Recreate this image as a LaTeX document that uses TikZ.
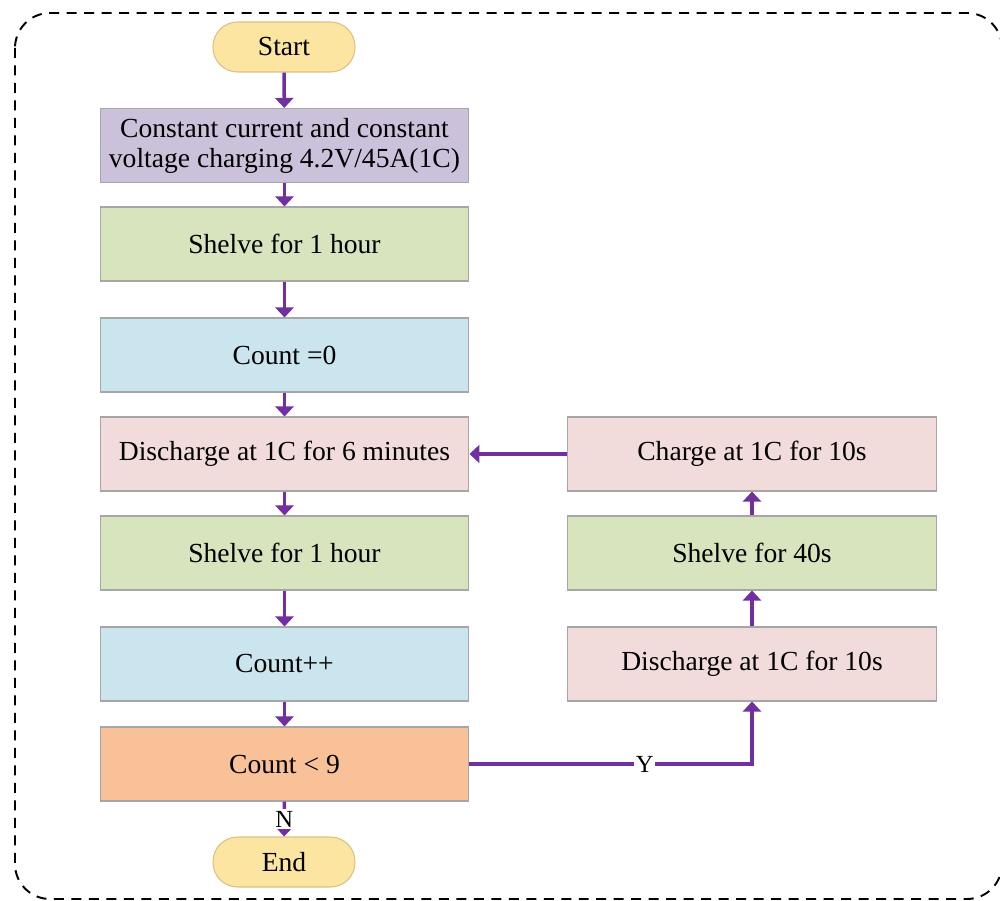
\documentclass[tikz,border=0pt]{standalone}
\usepackage{fontspec}
\setmainfont{Liberation Serif}
\usetikzlibrary{positioning, calc, arrows.meta}

\begin{document}
\begin{tikzpicture}[
  x=0.02cm, y=-0.02cm,
  font=\fontsize{15.7}{17}\selectfont,
  >={Triangle[length=2mm,width=3.6mm]},
  flowBox/.style={draw=cBorder, line width=0.6pt, minimum width=7.38cm,
                  minimum height=1.48cm, inner sep=0pt, align=center},
  termBox/.style={draw=cTermLine, line width=0.6pt, fill=cTerm,
                  rounded corners=4.9mm, minimum width=2.84cm,
                  minimum height=1.0cm, inner sep=0pt},
  flowArrow/.style={->, draw=cArrow, line width=2pt},
  ynLabel/.style={fill=white, inner sep=1pt, font=\fontsize{14}{14}\selectfont},
]
\definecolor{cArrow}{HTML}{7030A0}   % purple connectors
\definecolor{cBorder}{HTML}{A6A6A6}
\definecolor{cTerm}{HTML}{FCE5A1}
\definecolor{cTermLine}{HTML}{D9C08A}
\definecolor{cPurple}{HTML}{CCC1DA}
\definecolor{cGreen}{HTML}{D7E4BD}
\definecolor{cBlue}{HTML}{CAE5EE}
\definecolor{cPink}{HTML}{F2DCDB}
\definecolor{cOrange}{HTML}{F9C197}

\useasboundingbox (0,0) rectangle (1000,901);

% ---------- dashed frame ----------
\draw[black, line width=1.1pt, dash pattern=on 2mm off 1.5mm,
      rounded corners=0.7cm] (15,13) rectangle (1002,899);

% ---------- main column ----------
\node[termBox] (startTerm) at (284,47) {Start};
\node[flowBox, fill=cPurple] (ccCharge) at (284.5,145.5)
  {Constant current and constant\\voltage charging 4.2V/45A(1C)};
\node[flowBox, fill=cGreen] (shelveA) at (284.5,244) {Shelve for 1 hour};
\node[flowBox, fill=cBlue] (countZero) at (284.5,355) {Count =0};
\node[flowBox, fill=cPink] (dis6min) at (284.5,454) {Discharge at 1C for 6 minutes};
\node[flowBox, fill=cGreen] (shelveB) at (284.5,553) {Shelve for 1 hour};
\node[flowBox, fill=cBlue] (countInc) at (284.5,664) {Count++};
\node[flowBox, fill=cOrange] (countChk) at (284.5,764) {Count < 9};
\node[termBox] (endTerm) at (284,862) {End};

% ---------- pulse column ----------
\node[flowBox, fill=cPink] (chg10s) at (752,454) {Charge at 1C for 10s};
\node[flowBox, fill=cGreen] (shelve40) at (752,553) {Shelve for 40s};
\node[flowBox, fill=cPink] (dis10s) at (752,664) {Discharge at 1C for 10s};

% ---------- connectors ----------
\draw[flowArrow] (startTerm) -- (ccCharge);
\draw[flowArrow] (ccCharge) -- (shelveA);
\draw[flowArrow] (shelveA) -- (countZero);
\draw[flowArrow] (countZero) -- (dis6min);
\draw[flowArrow] (dis6min) -- (shelveB);
\draw[flowArrow] (shelveB) -- (countInc);
\draw[flowArrow] (countInc) -- (countChk);
\draw[flowArrow] (countChk) -- node[ynLabel] {N} (endTerm);

\draw[flowArrow] (countChk.east) -| node[ynLabel, pos=0.31] {Y} (dis10s.south);
\draw[flowArrow] (dis10s) -- (shelve40);
\draw[flowArrow] (shelve40) -- (chg10s);
\draw[flowArrow] (chg10s.west) -- (dis6min.east);

\end{tikzpicture}
\end{document}
